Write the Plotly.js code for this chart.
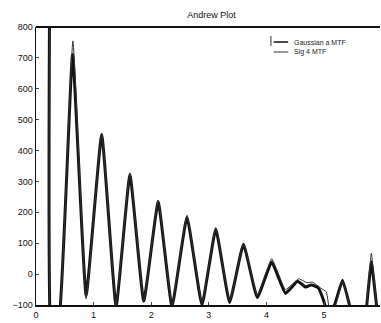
<!DOCTYPE html>
<html>
<head>
<meta charset="utf-8">
<script src="https://cdn.plot.ly/plotly-3.0.1.min.js"></script>
<style>html,body{margin:0;padding:0;background:#fff;overflow:hidden}</style>
</head>
<body>
<div id="chart" style="width:381px;height:323px"></div>
<script>
// Series 1 (thick line)
const xMain = [0.245, 0.265, 0.40, 0.635, 0.87, 1.14, 1.39, 1.63, 1.87, 2.12, 2.36, 2.62, 2.88, 3.12, 3.36, 3.60, 3.84, 4.09, 4.33, 4.54, 4.68, 4.78, 4.90, 5.00, 5.06, 5.18, 5.32, 5.44, 5.50, 5.70, 5.74, 5.82, 5.91, 5.96];
const yMain = [1200, -200, -150, 711, -70, 452, -105, 322, -88, 234, -105, 185, -100, 146, -92, 97, -76, 39, -62, -23, -42, -35, -45, -90, -130, -100, -20, -100, -150, -150, -100, 40, -100, -150];
// Series 2 (thin line)
const xThin = [0.245, 0.265, 0.40, 0.64, 0.87, 1.14, 1.39, 1.63, 1.87, 2.12, 2.36, 2.62, 2.88, 3.12, 3.36, 3.60, 3.84, 4.09, 4.33, 4.56, 4.70, 4.80, 4.94, 5.04, 5.10, 5.20, 5.32, 5.44, 5.50, 5.70, 5.74, 5.82, 5.91, 5.96];
const yThin = [1200, -200, -150, 755, -80, 455, -100, 328, -85, 240, -100, 190, -95, 150, -88, 100, -70, 50, -50, -15, -28, -26, -45, -58, -120, -100, -25, -100, -150, -150, -100, 68, -100, -150];
const seriesNames = ['Gaussian a MTF', 'Sig 4 MTF'];

const traces = [
  {x: xMain, y: yMain, type: 'scatter', mode: 'lines', name: seriesNames[0],
   line: {color: '#111', width: 3, shape: 'spline', smoothing: 0.35}},
  {x: xThin, y: yThin, type: 'scatter', mode: 'lines', name: seriesNames[1],
   line: {color: '#333', width: 1, shape: 'spline', smoothing: 0.35}}
];

const legendY = [0.946, 0.91];
const layout = {
  width: 381, height: 323,
  margin: {l: 36, r: 1, t: 27, b: 18},
  paper_bgcolor: '#fff', plot_bgcolor: '#fff',
  font: {family: 'Liberation Sans, Arial, sans-serif', size: 9, color: '#111'},
  title: {text: 'Andrew Plot', x: 0.555, xanchor: 'center', y: 0.955, yanchor: 'middle',
          font: {size: 9, color: '#111'}},
  showlegend: false,
  xaxis: {range: [0, 5.97], tickvals: [0, 1, 2, 3, 4, 5], ticks: 'inside', ticklen: 3,
          showgrid: false, zeroline: false, showline: true, linecolor: '#111', linewidth: 2,
          mirror: false, tickfont: {size: 9}},
  yaxis: {range: [-100, 800], tickvals: [-100, 0, 100, 200, 300, 400, 500, 600, 700, 800],
          ticks: 'inside', ticklen: 3, showgrid: false, zeroline: false, showline: true,
          linecolor: '#111', linewidth: 1.5, tickfont: {size: 9}},
  shapes: [
    {type: 'line', xref: 'paper', yref: 'paper', x0: 0, x1: 1, y0: 1, y1: 1,
     line: {color: '#111', width: 2}},
    {type: 'line', xref: 'paper', yref: 'paper', x0: 0.691, x1: 0.733, y0: legendY[0], y1: legendY[0],
     line: {color: '#111', width: 1.5}},
    {type: 'line', xref: 'paper', yref: 'paper', x0: 0.691, x1: 0.733, y0: legendY[1], y1: legendY[1],
     line: {color: '#333', width: 1}},
    {type: 'line', xref: 'paper', yref: 'paper', x0: 0.683, x1: 0.683, y0: 0.968, y1: 0.932,
     line: {color: '#333', width: 1}}
  ],
  annotations: seriesNames.map((n, i) => ({
    text: n, xref: 'paper', yref: 'paper', x: 0.745, y: legendY[i], xanchor: 'left',
    yanchor: 'middle', showarrow: false, font: {size: 7, color: '#222'}
  }))
};

Plotly.newPlot('chart', traces, layout, {displayModeBar: false, staticPlot: true});
</script>
</body>
</html>
